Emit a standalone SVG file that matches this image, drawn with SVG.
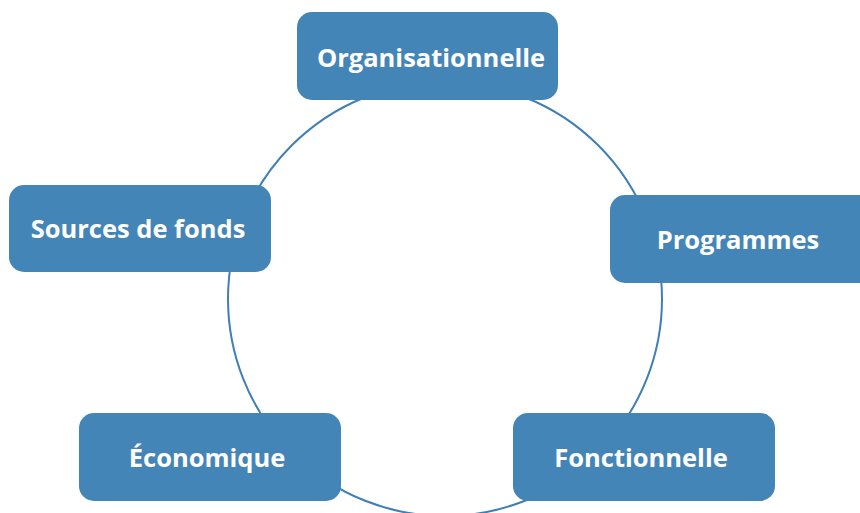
<svg xmlns="http://www.w3.org/2000/svg" width="860" height="513" viewBox="0 0 860 513">
<style>
.box{fill:#4485b8;}
.lbl{fill:#ffffff;font-family:"Open Sans","Liberation Sans",sans-serif;font-weight:bold;font-size:25.5px;text-anchor:middle;}
</style>
<rect width="860" height="513" fill="#ffffff"/>
<g id="connectors">
<circle cx="445" cy="299" r="217" fill="none" stroke="#3f7fb5" stroke-width="2"/>
</g>
<g id="organisationnelle">
<rect class="box" x="297" y="12" width="261" height="88" rx="15"/>
<text class="lbl" x="431" y="67">Organisationnelle</text>
</g>
<g id="sources">
<rect class="box" x="9" y="185" width="262" height="87" rx="15"/>
<text class="lbl" x="138" y="238">Sources de fonds</text>
</g>
<g id="programmes">
<rect class="box" x="610" y="195" width="265" height="88" rx="15"/>
<text class="lbl" x="738" y="249">Programmes</text>
</g>
<g id="economique">
<rect class="box" x="79" y="413" width="262" height="88" rx="15"/>
<text class="lbl" x="207" y="467">Économique</text>
</g>
<g id="fonctionnelle">
<rect class="box" x="513" y="413" width="262" height="88" rx="15"/>
<text class="lbl" x="641" y="467">Fonctionnelle</text>
</g>
</svg>
